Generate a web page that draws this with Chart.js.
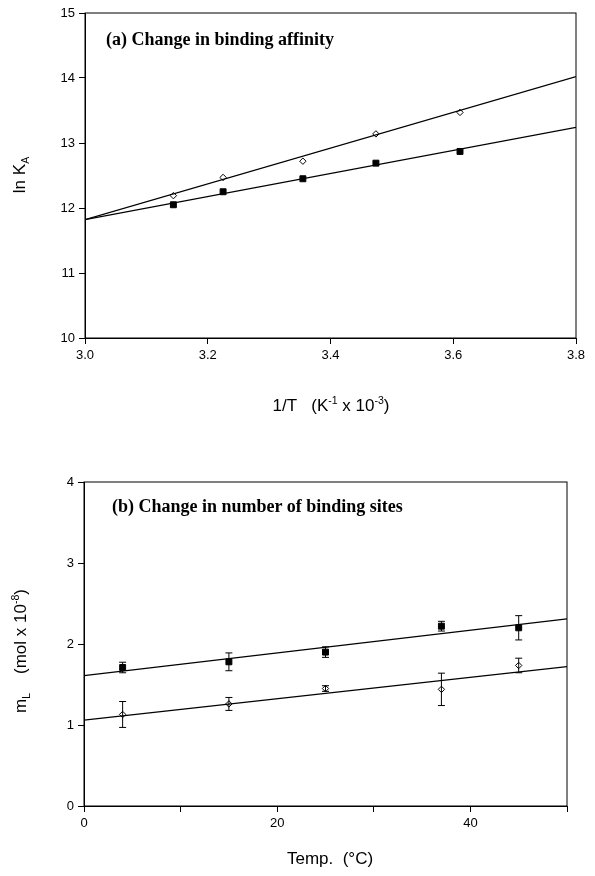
<!DOCTYPE html>
<html>
<head>
<meta charset="utf-8">
<script src="https://cdn.jsdelivr.net/npm/chart.js@4.4.1/dist/chart.umd.min.js"></script>
<style>
  html,body{margin:0;padding:0;background:#fff;}
  #page{position:relative;width:595px;height:876px;overflow:hidden;font-family:"Liberation Sans",Arial,sans-serif;color:#000;}
  canvas{position:absolute;left:0;}
  .lbl{position:absolute;white-space:nowrap;font-size:17px;line-height:1;transform:translate(-50%,-50%);}
  .rot{transform:translate(-50%,-50%) rotate(-90deg);}
  .panel{position:absolute;white-space:nowrap;font-family:"Liberation Serif","Times New Roman",serif;font-weight:bold;font-size:18px;line-height:1;}
  sup,sub{font-size:62%;line-height:0;}
</style>
</head>
<body>
<div id="page">
  <canvas id="chartA" width="595" height="420" style="top:0"></canvas>
  <canvas id="chartB" width="595" height="456" style="top:420px"></canvas>

  <div class="panel" style="left:106px;top:30px">(a) Change in binding affinity</div>
  <div class="lbl rot" style="left:19px;top:175px">ln K<sub>A</sub></div>
  <div class="lbl" style="left:331px;top:405px">1/T&nbsp;&nbsp; (K<sup>-1</sup> x 10<sup>-3</sup>)</div>

  <div class="panel" style="left:112px;top:497px">(b) Change in number of binding sites</div>
  <div class="lbl rot" style="left:20px;top:651px">m<sub>L</sub>&nbsp;&nbsp;&nbsp; (mol x 10<sup>-8</sup>)</div>
  <div class="lbl" style="left:330px;top:858px">Temp.&nbsp; (°C)</div>
</div>

<script>
/* ── Panel (a): ln KA vs 1/T ── */
const invT        = [3.144, 3.225, 3.355, 3.474, 3.611];
const lnKaOpen    = [12.19, 12.47, 12.72, 13.14, 13.47];
const lnKaFilled  = [12.05, 12.25, 12.45, 12.69, 12.87];
const fitXA       = [3.0, 3.8];
const fitOpenA    = [11.82, 14.02];
const fitFilledA  = [11.82, 13.24];

/* ── Panel (b): mL vs temperature ── */
const temps       = [4, 15, 25, 37, 45];
const mLFilled    = [1.71, 1.78, 1.90, 2.22, 2.20];
const errFilled   = [0.065, 0.11, 0.065, 0.06, 0.15];
const mLOpen      = [1.13, 1.26, 1.45, 1.44, 1.735];
const errOpen     = [0.16, 0.08, 0.035, 0.20, 0.09];
const fitXB       = [0, 50];
const fitFilledB  = [1.61, 2.31];
const fitOpenB    = [1.06, 1.72];

const pts = (xs, ys) => xs.map((x,i)=>({x, y:ys[i]}));
const TICKFONT = { family:'"Liberation Sans", Arial, sans-serif', size:13 };

/* frame round the plot area */
const framePlugin = {
  id:'frame',
  afterDraw(chart){
    const {ctx, chartArea:a} = chart;
    ctx.save();
    ctx.strokeStyle = '#000'; ctx.lineWidth = 1;
    ctx.strokeRect(a.left, a.top, a.right-a.left, a.bottom-a.top);
    ctx.restore();
  }
};

/* vertical error bars from dataset.errors */
const errorPlugin = {
  id:'errbars',
  afterDatasetsDraw(chart){
    const {ctx, scales:{x, y}} = chart;
    ctx.save();
    ctx.strokeStyle = '#000'; ctx.lineWidth = 1;
    chart.data.datasets.forEach(ds=>{
      if (!ds.errors) return;
      ds.data.forEach((p,i)=>{
        const e = ds.errors[i];
        const px = x.getPixelForValue(p.x);
        const y1 = y.getPixelForValue(p.y+e), y2 = y.getPixelForValue(p.y-e);
        ctx.beginPath();
        ctx.moveTo(px, y1); ctx.lineTo(px, y2);
        ctx.moveTo(px-3.5, y1); ctx.lineTo(px+3.5, y1);
        ctx.moveTo(px-3.5, y2); ctx.lineTo(px+3.5, y2);
        ctx.stroke();
      });
    });
    ctx.restore();
  }
};

function axis(opts, size, isY){
  return Object.assign({
    type:'linear',
    grid:{ display:true, drawOnChartArea:false, drawTicks:true, tickLength:6, color:'#000' },
    border:{ display:true, color:'#000', width:1 },
    ticks:{ color:'#000', font:TICKFONT, padding:4, maxRotation:0, autoSkip:false },
    afterFit(s){ if (isY) s.width = size; else s.height = size; }
  }, opts);
}

const lineDs  = d => ({ data:d, showLine:true, borderColor:'#000', borderWidth:1.2, pointRadius:0, fill:false });
const openDs  = (d, err) => ({ data:d, errors:err, showLine:false, pointStyle:'rectRot', pointRadius:3.2, backgroundColor:'#fff', borderColor:'#000', borderWidth:1 });
const fillDs  = (d, err) => ({ data:d, errors:err, showLine:false, pointStyle:'rect', pointRadius:4.2, backgroundColor:'#000', borderColor:'#000', borderWidth:1 });

const common = { responsive:false, animation:false, plugins:{ legend:{display:false}, tooltip:{enabled:false} } };

new Chart(document.getElementById('chartA'), {
  type:'scatter',
  data:{ datasets:[
    lineDs(pts(fitXA, fitOpenA)),
    lineDs(pts(fitXA, fitFilledA)),
    openDs(pts(invT, lnKaOpen)),
    fillDs(pts(invT, lnKaFilled))
  ]},
  options:{ ...common,
    layout:{ padding:{ left:0, right:19, top:13, bottom:0 } },
    scales:{
      x: axis({ min:3.0, max:3.8, ticks:{ ...axis({}).ticks, stepSize:0.2, callback:v=>v.toFixed(1) } }, 82, false),
      y: axis({ min:10, max:15, ticks:{ ...axis({}).ticks, stepSize:1 } }, 85, true)
    }
  },
  plugins:[framePlugin, errorPlugin]
});

new Chart(document.getElementById('chartB'), {
  type:'scatter',
  data:{ datasets:[
    lineDs(pts(fitXB, fitFilledB)),
    lineDs(pts(fitXB, fitOpenB)),
    fillDs(pts(temps, mLFilled), errFilled),
    openDs(pts(temps, mLOpen), errOpen)
  ]},
  options:{ ...common,
    layout:{ padding:{ left:0, right:28, top:62, bottom:0 } },
    scales:{
      x: axis({ min:0, max:50, ticks:{ ...axis({}).ticks, stepSize:10, callback:v=>v%20===0?String(v):'' } }, 70, false),
      y: axis({ min:0, max:4, ticks:{ ...axis({}).ticks, stepSize:1 } }, 84, true)
    }
  },
  plugins:[framePlugin, errorPlugin]
});
</script>
</body>
</html>
